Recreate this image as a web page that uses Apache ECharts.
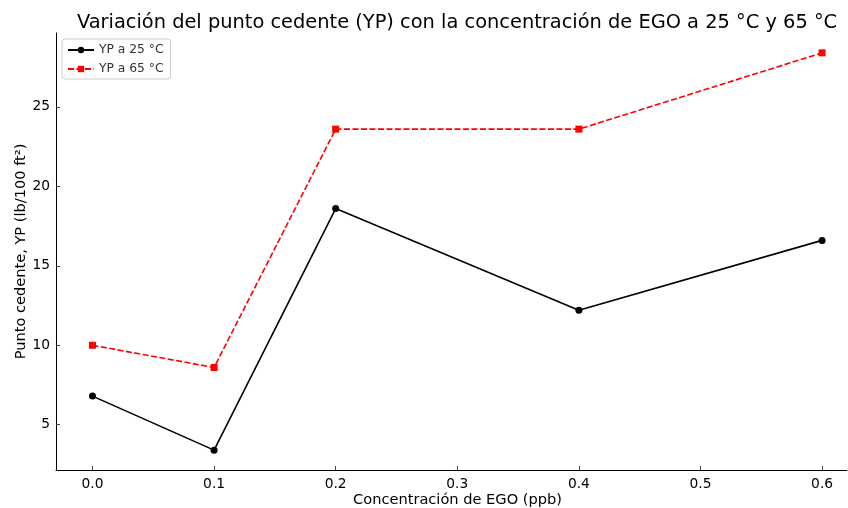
<!DOCTYPE html>
<html>
<head>
<meta charset="utf-8">
<script src="https://cdn.jsdelivr.net/npm/echarts@6/dist/echarts.min.js"></script>
<style>
  html, body { margin: 0; padding: 0; background: #fff; }
  #chart { width: 848px; height: 508px; }
</style>
</head>
<body>
<div id="chart"></div>
<script>
// EGO concentration (ppb) and yield point (lb/100 ft²) at two temperatures
const concentrations = [0.0, 0.1, 0.2, 0.4, 0.6];
const yp25 = [6.8, 3.4, 18.6, 12.2, 16.6];
const yp65 = [10.0, 8.6, 23.6, 23.6, 28.4];
const xTicks = [0.0, 0.1, 0.2, 0.3, 0.4, 0.5, 0.6];
const yTicks = [5, 10, 15, 20, 25];

const font = 'DejaVu Sans';
const pairs = (xs, ys) => xs.map((x, i) => [x, ys[i]]);

const chart = echarts.init(document.getElementById('chart'), null, { renderer: 'canvas' });
chart.setOption({
  animation: false,
  backgroundColor: '#ffffff',
  textStyle: { fontFamily: font },
  title: {
    text: 'Variación del punto cedente (YP) con la concentración de EGO a 25 °C y 65 °C',
    left: 452, top: 8, textAlign: 'center',
    textStyle: { fontFamily: font, fontSize: 19.4, fontWeight: 'normal', color: '#000' }
  },
  grid: { left: 56, right: 1, top: 33, bottom: 38, containLabel: false, outerBoundsMode: 'none' },
  legend: {
    left: 62, top: 39, orient: 'vertical',
    itemWidth: 26, itemHeight: 8, itemGap: 7,
    padding: [5, 7, 4, 5],
    borderColor: '#cccccc', borderWidth: 1, borderRadius: 3,
    backgroundColor: '#ffffff',
    textStyle: { fontFamily: font, fontSize: 12.3, color: '#333' },
    data: ['YP a 25 °C', 'YP a 65 °C']
  },
  xAxis: {
    type: 'value', min: -0.03, max: 0.6205,
    name: 'Concentración de EGO (ppb)', nameLocation: 'middle', nameGap: 23, nameMoveOverlap: false,
    nameTextStyle: { fontFamily: font, fontSize: 14.6, color: '#000', padding: [0, 0, 0, 12] },
    axisLine: { show: true, onZero: false, lineStyle: { color: '#000', width: 1 } },
    axisTick: { show: true, inside: true, length: 4, customValues: xTicks, lineStyle: { color: '#444' } },
    axisLabel: { fontFamily: font, fontSize: 13.8, color: '#000', margin: 7, customValues: xTicks,
      formatter: v => v.toFixed(1) },
    splitLine: { show: false }
  },
  yAxis: {
    type: 'value', min: 2.15, max: 29.65,
    name: 'Punto cedente, YP (lb/100 ft²)', nameLocation: 'middle', nameGap: 27, nameMoveOverlap: false,
    nameTextStyle: { fontFamily: font, fontSize: 14.6, color: '#000' },
    axisLine: { show: true, onZero: false, lineStyle: { color: '#000', width: 1 } },
    axisTick: { show: true, inside: true, length: 4, customValues: yTicks, lineStyle: { color: '#444' } },
    axisLabel: { fontFamily: font, fontSize: 13.8, color: '#000', margin: 6, customValues: yTicks },
    splitLine: { show: false }
  },
  series: [
    {
      name: 'YP a 25 °C', type: 'line',
      data: pairs(concentrations, yp25),
      symbol: 'circle', symbolSize: 7,
      itemStyle: { color: '#000000' },
      lineStyle: { color: '#000000', width: 1.6 }
    },
    {
      name: 'YP a 65 °C', type: 'line',
      data: pairs(concentrations, yp65),
      symbol: 'rect', symbolSize: 7,
      itemStyle: { color: '#ff0000' },
      lineStyle: { color: '#ff0000', width: 1.6, type: [6, 2.5] }
    }
  ]
});
</script>
</body>
</html>
